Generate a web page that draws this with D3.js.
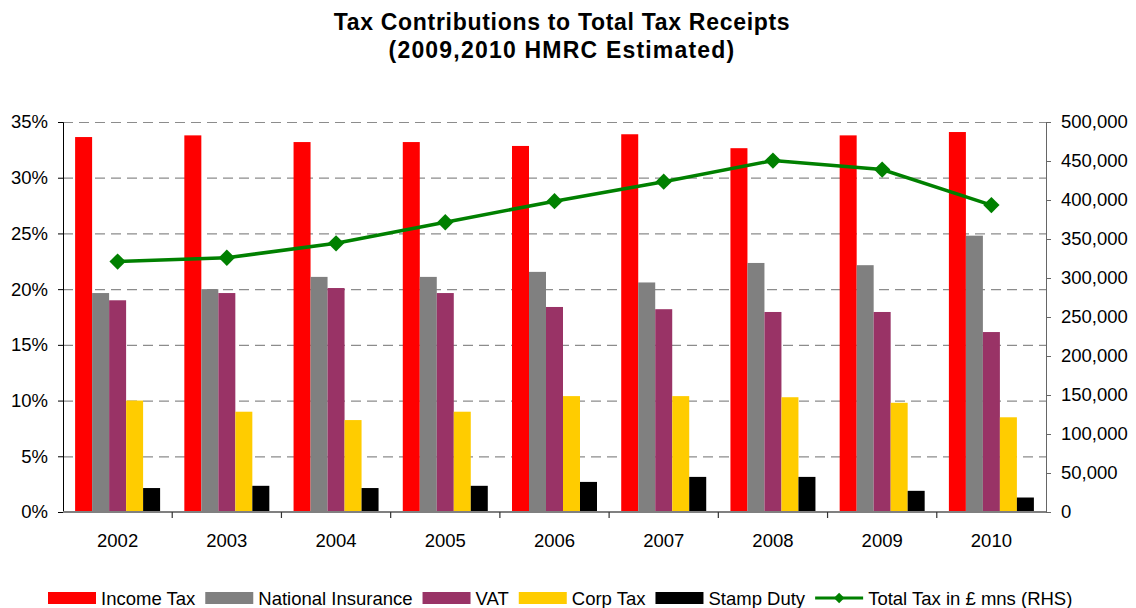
<!DOCTYPE html>
<html>
<head>
<meta charset="utf-8">
<script src="https://cdn.jsdelivr.net/npm/d3@7"></script>
<style>
  html, body { margin: 0; padding: 0; background: #fff; }
  svg { display: block; font-family: "Liberation Sans", Arial, sans-serif; }
</style>
</head>
<body>
<svg id="chart" width="1136" height="608"></svg>
<script>
// Share of total tax receipts by tax type (percent), plus total receipts (£ mns)
const years = ["2002", "2003", "2004", "2005", "2006", "2007", "2008", "2009", "2010"];
const incomeTax = [33.65, 33.8, 33.2, 33.2, 32.85, 33.9, 32.65, 33.8, 34.1];
const nationalInsurance = [19.65, 20.0, 21.1, 21.1, 21.55, 20.6, 22.35, 22.15, 24.8];
const vat = [19.0, 19.65, 20.1, 19.65, 18.4, 18.2, 17.95, 17.95, 16.15];
const corpTax = [10.0, 9.0, 8.25, 9.0, 10.4, 10.4, 10.3, 9.8, 8.5];
const stampDuty = [2.15, 2.35, 2.15, 2.35, 2.7, 3.15, 3.15, 1.9, 1.3];
const totalTax = [321000, 326000, 344500, 371500, 398500, 423500, 450500, 439000, 393500];

const seriesNames = ["Income Tax", "National Insurance", "VAT", "Corp Tax", "Stamp Duty"];
const lineName = "Total Tax in £ mns (RHS)";
const leftTicks = [0, 5, 10, 15, 20, 25, 30, 35];
const rightTicks = [0, 50000, 100000, 150000, 200000, 250000, 300000, 350000, 400000, 450000, 500000];
const titleLines = ["Tax Contributions to Total Tax Receipts", "(2009,2010 HMRC Estimated)"];

const colors = ["#ff0000", "#808080", "#993366", "#ffcc00", "#000000"];
const lineColor = "#008000";
const seriesValues = [incomeTax, nationalInsurance, vat, corpTax, stampDuty];

const svg = d3.select("#chart");
const plot = { left: 63, right: 1046, top: 122, bottom: 512 };

const x = d3.scaleBand().domain(years).range([plot.left, plot.right]).padding(0);
const xInner = d3.scaleBand().domain(seriesNames)
  .range([(x.bandwidth() - 85) / 2, (x.bandwidth() + 85) / 2]).padding(0);
const yLeft = d3.scaleLinear().domain([0, 35]).range([plot.bottom, plot.top]);
const yRight = d3.scaleLinear().domain([0, 500000]).range([plot.bottom, plot.top]);

// Title
svg.append("g").selectAll("text").data(titleLines).join("text")
  .attr("x", 562).attr("y", (d, i) => 30 + i * 28)
  .attr("text-anchor", "middle")
  .attr("font-size", 23).attr("font-weight", "bold").attr("fill", "#000")
  .attr("letter-spacing", (d, i) => i === 0 ? 0.7 : 1.2)
  .text(d => d);

// Dashed gridlines
svg.append("g").selectAll("line").data(leftTicks.filter(t => t > 0)).join("line")
  .attr("x1", plot.left).attr("x2", plot.right)
  .attr("y1", d => yLeft(d) + 0.5).attr("y2", d => yLeft(d) + 0.5)
  .attr("stroke", "#8c8c8c").attr("stroke-width", 1.2)
  .attr("stroke-dasharray", "10,6");

// Bars
const groups = svg.append("g").selectAll("g").data(years).join("g")
  .attr("transform", d => `translate(${x(d)},0)`);
groups.selectAll("rect")
  .data((yr, i) => seriesNames.map((name, s) => ({ name, s, v: seriesValues[s][i] })))
  .join("rect")
  .attr("x", d => xInner(d.name))
  .attr("width", xInner.bandwidth())
  .attr("y", d => yLeft(d.v))
  .attr("height", d => plot.bottom - yLeft(d.v))
  .attr("fill", d => colors[d.s]);

// Left axis
const leftAxis = svg.append("g").attr("transform", `translate(${plot.left},0)`)
  .call(d3.axisLeft(yLeft).tickValues(leftTicks).tickFormat(d => d + "%").tickSizeOuter(0).tickSize(5).tickPadding(10));
leftAxis.select(".domain").attr("stroke", "#000");
leftAxis.selectAll(".tick line").attr("stroke", "#000");
leftAxis.selectAll("text").attr("font-size", 18.5).attr("fill", "#000").attr("font-family", "Liberation Sans, Arial, sans-serif");

// Right axis
const rightAxis = svg.append("g").attr("transform", `translate(${plot.right},0)`)
  .call(d3.axisRight(yRight).tickValues(rightTicks).tickFormat(d3.format(",")).tickSizeOuter(0).tickSize(5).tickPadding(10));
rightAxis.select(".domain").attr("stroke", "#666");
rightAxis.selectAll(".tick line").attr("stroke", "#666");
rightAxis.selectAll("text").attr("font-size", 18.5).attr("fill", "#000").attr("font-family", "Liberation Sans, Arial, sans-serif");

// Category axis
const bottomAxis = svg.append("g").attr("transform", `translate(0,${plot.bottom})`)
  .call(d3.axisBottom(x).tickSize(0).tickPadding(22));
bottomAxis.select(".domain").remove();
bottomAxis.selectAll("text").attr("font-size", 18.5).attr("fill", "#000").attr("font-family", "Liberation Sans, Arial, sans-serif");
svg.append("line")
  .attr("x1", plot.left).attr("x2", plot.right)
  .attr("y1", plot.bottom).attr("y2", plot.bottom)
  .attr("stroke", "#808080").attr("stroke-width", 2);
svg.append("g").selectAll("line").data(years.slice(1)).join("line")
  .attr("x1", d => x(d)).attr("x2", d => x(d))
  .attr("y1", plot.bottom).attr("y2", plot.bottom + 6)
  .attr("stroke", "#333").attr("stroke-width", 1.2);

// Total tax line (right-hand scale)
const cx = d => x(d) + x.bandwidth() / 2;
svg.append("path")
  .datum(years.map((yr, i) => [cx(yr), yRight(totalTax[i])]))
  .attr("fill", "none").attr("stroke", lineColor).attr("stroke-width", 3.5)
  .attr("d", d3.line());
const diamond = d3.symbol().type(d3.symbolDiamond2);
svg.append("g").selectAll("path").data(years).join("path")
  .attr("transform", (d, i) => `translate(${cx(d)},${yRight(totalTax[i])})`)
  .attr("d", diamond.size(170)())
  .attr("fill", lineColor);

// Legend
const legend = svg.append("g");
const items = seriesNames.map((n, i) => ({ name: n, color: colors[i], type: "bar" }))
  .concat([{ name: lineName, color: lineColor, type: "line" }]);
let lx = 48;
const ly = 598;
items.forEach(it => {
  const g = legend.append("g");
  if (it.type === "bar") {
    g.append("rect").attr("x", lx).attr("y", ly - 6).attr("width", 48).attr("height", 12).attr("fill", it.color);
  } else {
    g.append("line").attr("x1", lx).attr("x2", lx + 48).attr("y1", ly).attr("y2", ly)
      .attr("stroke", it.color).attr("stroke-width", 3);
    g.append("path").attr("transform", `translate(${lx + 24},${ly})`)
      .attr("d", d3.symbol().type(d3.symbolDiamond2).size(70)()).attr("fill", it.color);
  }
  const t = g.append("text").attr("x", lx + 53).attr("y", ly + 6.5)
    .attr("font-size", 18.5).attr("fill", "#000").text(it.name);
  lx += 53 + t.node().getComputedTextLength() + 10;
});
</script>
</body>
</html>
